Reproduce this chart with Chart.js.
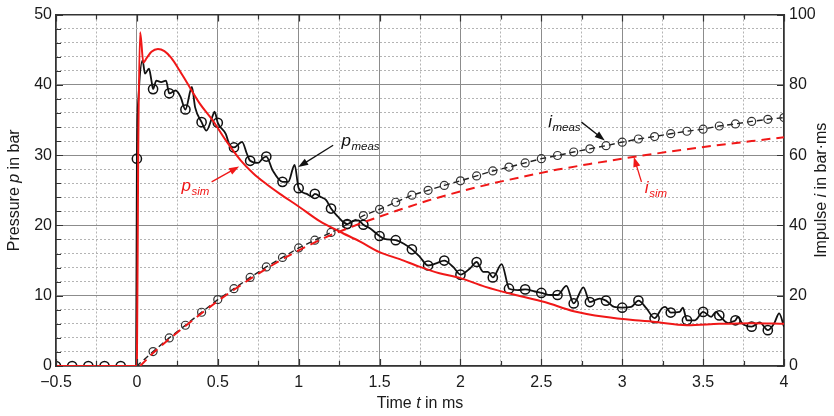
<!DOCTYPE html>
<html>
<head>
<meta charset="utf-8">
<title>Pressure and impulse</title>
<script src="https://cdn.jsdelivr.net/npm/chart.js@4.4.1/dist/chart.umd.min.js"></script>
<style>
  html, body { margin: 0; padding: 0; background: #fff; }
  #wrap { width: 834px; height: 416px; }
</style>
</head>
<body>
<div id="wrap"><canvas id="chart" width="834" height="416"></canvas></div>
<script>
/*global window, document, Chart*/
/*jslint indent: 2 */

// measured pressure (bar) over time (ms)
var p_meas_t = [-0.5, -0.4, -0.3, -0.2, -0.1, -0.005, 0, 0.01, 0.035, 0.05,
  0.075, 0.09, 0.1, 0.12, 0.15, 0.18, 0.2, 0.24, 0.27, 0.3, 0.34, 0.36, 0.4,
  0.43, 0.47, 0.48, 0.5, 0.55, 0.57, 0.6, 0.65, 0.68, 0.7, 0.75, 0.78, 0.8,
  0.84, 0.9, 0.935, 0.975, 1.0, 1.05, 1.08, 1.1, 1.14, 1.17, 1.2, 1.245,
  1.275, 1.3, 1.345, 1.37, 1.4, 1.44, 1.5, 1.53, 1.6, 1.65, 1.7, 1.75, 1.8,
  1.85, 1.9, 1.955, 2.0, 2.06, 2.1, 2.14, 2.17, 2.2, 2.255, 2.29, 2.3, 2.355,
  2.4, 2.46, 2.5, 2.56, 2.6, 2.655, 2.7, 2.76, 2.8, 2.86, 2.9, 2.95, 3.0,
  3.055, 3.1, 3.15, 3.2, 3.245, 3.265, 3.3, 3.355, 3.375, 3.4, 3.45, 3.5,
  3.55, 3.58, 3.6, 3.655, 3.68, 3.7, 3.715, 3.74, 3.8, 3.85, 3.9, 3.94, 3.97,
  4.0];
var p_meas_v = [0, 0, 0, 0, 0, 0, 29.5, 38.3, 43.5, 41.6,
  42.3, 40.6, 39.4, 40.6, 40.4, 40.6, 38.8, 39.2, 38.3, 36.5, 39.7, 36.8, 34.7,
  33.5, 35.7, 36.2, 34.6, 33.0, 31.6, 31.1, 31.9, 30.2, 29.2, 28.9, 29.6, 29.8,
  27.8, 26.2, 26.2, 28.6, 25.3, 24.5, 24.1, 24.5, 24.0, 23.6, 22.4, 21.2,
  20.5, 20.2, 20.7, 20.7, 20.1, 19.6, 18.5, 18.1, 17.9, 17.4, 16.6, 15.5, 14.3,
  14.6, 15.0, 14.1, 13.0, 13.9, 14.8, 13.4, 13.4, 12.6, 14.5, 11.7, 11.0, 10.8,
  10.9, 10.6, 10.4, 10.1, 10.1, 11.4, 8.9, 11.2, 9.1, 9.6, 9.3, 8.4, 8.3,
  8.4, 9.3, 8.2, 6.8, 8.2, 8.4, 7.6, 7.7, 8.3, 6.5, 6.5, 7.7,
  7.0, 7.7, 7.2, 6.1, 6.3, 6.5, 7.0, 6.1, 5.6, 6.2, 5.1, 6.1, 7.5,
  5.6];

// simulated pressure (bar)
var p_sim_t = [-0.5, 0, 0.008, 0.02, 0.04, 0.06, 0.09, 0.13, 0.17, 0.21, 0.26,
  0.31, 0.39, 0.47, 0.55, 0.64, 0.72, 0.8, 0.884, 1.0, 1.13, 1.255, 1.38, 1.5,
  1.625, 1.75, 1.87, 2.0, 2.15, 2.34, 2.52, 2.7, 2.89, 3.08, 3.19, 3.4, 3.6,
  3.8, 4.0];
var p_sim_v = [0, 0, 30, 47.5, 43.2, 43.8, 44.7, 45.1, 44.8, 43.9, 42.2,
  40.3, 37.3, 34.9, 32.1, 29.3, 27.4, 25.9, 24.5, 22.7, 20.6, 19.1, 17.7, 16.2,
  15.2, 14.1, 13.2, 12.5, 11.3, 10.1, 9.1, 7.8, 7.0, 6.5, 6.3, 5.8, 6.0,
  6.1, 6.0];

// measured impulse (bar ms)
var i_meas_t = [-0.5, 0, 0.1, 0.2, 0.3, 0.4, 0.5, 0.6, 0.7, 0.8, 0.9, 1.0,
  1.1, 1.2, 1.3, 1.4, 1.5, 1.6, 1.7, 1.8, 1.9, 2.0, 2.1, 2.2, 2.3, 2.4, 2.5,
  2.6, 2.7, 2.8, 2.9, 3.0, 3.1, 3.2, 3.3, 3.4, 3.5, 3.6, 3.7, 3.8, 3.9, 4.0];
var i_meas_v = [0, 0, 4.1, 8.0, 11.6, 15.3, 18.9, 22.0, 25.2, 28.2, 30.9, 33.6,
  35.8, 38.0, 40.3, 42.8, 44.6, 46.6, 48.6, 50.0, 51.4, 52.7, 54.1, 55.5, 56.6,
  57.8, 59.0, 59.9, 60.9, 61.8, 62.7, 63.7, 64.6, 65.3, 66.1, 66.8, 67.4, 68.3,
  68.9, 69.6, 70.2, 70.7];

// simulated impulse (bar ms)
var i_sim_t = [0.02, 0.1, 0.2, 0.3, 0.4, 0.5, 0.6, 0.7, 0.8, 0.9, 1.0, 1.1,
  1.2, 1.3, 1.4, 1.6, 1.8, 2.0, 2.2, 2.4, 2.6, 2.8, 3.0, 3.2, 3.4, 3.6, 3.8,
  4.0];
var i_sim_v = [0, 3.7, 7.7, 11.4, 15.0, 18.5, 21.7, 24.8, 27.7, 30.4, 32.9,
  35.2, 37.3, 39.1, 40.9, 44.1, 47.1, 49.7, 52.0, 54.0, 55.9, 57.5, 59.0, 60.4,
  61.7, 62.9, 64.0, 65.1];

(function (window, document, Chart) {
  "use strict";

  var FONT = "'Liberation Sans', Arial, sans-serif",
    RED = "#f01818",
    INK = "#111111",
    // labels with arrows, in data units: [text, sub, axis, t, v, from t, from v, to t, to v, colour]
    note_list = [
      ["p", "meas", "y", 1.265, 31.25, 1.213, 31.4, 0.997, 28.3, INK],
      ["p", "sim", "y", 0.276, 24.86, 0.462, 26.2, 0.632, 28.4, RED],
      ["i", "meas", "y2", 2.542, 68.04, 2.748, 69.4, 2.892, 64.2, INK],
      ["i", "sim", "y2", 3.14, 49.15, 3.119, 52.4, 3.072, 59.5, RED]
    ];

  function pairs(t_list, v_list) {
    return t_list.map(function (t, k) {
      return {x: t, y: v_list[k]};
    });
  }

  function isStep(value, step) {
    var q = value / step;
    return Math.abs(q - Math.round(q)) < 1e-6;
  }

  function drawRich(ctx, part_list, x, y, align) {
    var width = 0, i, cx;
    for (i = 0; i < part_list.length; i += 1) {
      ctx.font = (part_list[i][1] ? "italic " : "") + "16px " + FONT;
      width += ctx.measureText(part_list[i][0]).width;
    }
    cx = align === "center" ? x - width / 2 : x;
    ctx.textAlign = "left";
    for (i = 0; i < part_list.length; i += 1) {
      ctx.font = (part_list[i][1] ? "italic " : "") + "16px " + FONT;
      ctx.fillText(part_list[i][0], cx, y);
      cx += ctx.measureText(part_list[i][0]).width;
    }
  }

  function drawArrow(ctx, x0, y0, x1, y1, color) {
    var ang = Math.atan2(y1 - y0, x1 - x0), len = 10, half = 3.6;
    ctx.strokeStyle = color;
    ctx.fillStyle = color;
    ctx.lineWidth = 1.3;
    ctx.beginPath();
    ctx.moveTo(x0, y0);
    ctx.lineTo(x1 - Math.cos(ang) * len * 0.8, y1 - Math.sin(ang) * len * 0.8);
    ctx.stroke();
    ctx.beginPath();
    ctx.moveTo(x1, y1);
    ctx.lineTo(x1 - Math.cos(ang) * len - Math.sin(ang) * half,
      y1 - Math.sin(ang) * len + Math.cos(ang) * half);
    ctx.lineTo(x1 - Math.cos(ang) * len + Math.sin(ang) * half,
      y1 - Math.sin(ang) * len - Math.cos(ang) * half);
    ctx.closePath();
    ctx.fill();
  }

  var decor_plugin = {
    id: "decor",
    afterDatasetsDraw: function (chart) {
      var ctx = chart.ctx,
        area = chart.chartArea,
        sx = chart.scales.x,
        sy = chart.scales.y,
        sy2 = chart.scales.y2,
        v,
        px,
        len;
      ctx.save();
      ctx.strokeStyle = "#333";
      ctx.lineWidth = 1.2;
      ctx.beginPath();
      // inner tick marks on the time axis, bottom and top
      for (v = -0.5; v <= 4.0001; v += 0.25) {
        px = Math.round(sx.getPixelForValue(v)) + 0.5;
        len = isStep(v, 0.5) ? 7 : 5;
        ctx.moveTo(px, area.bottom);
        ctx.lineTo(px, area.bottom - len);
        ctx.moveTo(px, area.top);
        ctx.lineTo(px, area.top + len);
      }
      // inner tick marks on the pressure axis
      for (v = 0; v <= 50.001; v += 2) {
        px = Math.round(sy.getPixelForValue(v)) + 0.5;
        len = isStep(v, 10) ? 7 : 5;
        ctx.moveTo(area.left, px);
        ctx.lineTo(area.left + len, px);
      }
      // inner tick marks on the impulse axis
      for (v = 0; v <= 100.001; v += 20) {
        px = Math.round(sy2.getPixelForValue(v)) + 0.5;
        ctx.moveTo(area.right, px);
        ctx.lineTo(area.right - 7, px);
      }
      ctx.stroke();

      // curve labels with arrows
      note_list.forEach(function (note) {
        var sv = chart.scales[note[2]],
          x = sx.getPixelForValue(note[3]),
          y = sv.getPixelForValue(note[4]),
          w;
        drawArrow(ctx, sx.getPixelForValue(note[5]), sv.getPixelForValue(note[6]),
          sx.getPixelForValue(note[7]), sv.getPixelForValue(note[8]), note[9]);
        ctx.fillStyle = note[9];
        ctx.textAlign = "left";
        ctx.textBaseline = "alphabetic";
        ctx.font = "italic 17px " + FONT;
        ctx.fillText(note[0], x, y);
        w = ctx.measureText(note[0]).width;
        ctx.font = "italic 11.5px " + FONT;
        ctx.fillText(note[1], x + w + 0.5, y + 4);
      });
      ctx.restore();
    },
    afterDraw: function (chart) {
      var ctx = chart.ctx,
        area = chart.chartArea,
        mid = (area.top + area.bottom) / 2;
      ctx.save();
      ctx.fillStyle = "#1a1a1a";
      ctx.textBaseline = "middle";
      drawRich(ctx, [["Time ", false], ["t", true], [" in ms", false]],
        (area.left + area.right) / 2, 404, "center");
      ctx.translate(15, mid);
      ctx.rotate(-Math.PI / 2);
      drawRich(ctx, [["Pressure ", false], ["p", true], [" in bar", false]],
        0, 0, "center");
      ctx.restore();
      ctx.save();
      ctx.fillStyle = "#1a1a1a";
      ctx.textBaseline = "middle";
      ctx.translate(822, mid);
      ctx.rotate(-Math.PI / 2);
      drawRich(ctx, [["Impulse ", false], ["i", true], [" in bar\u00b7ms", false]],
        0, 0, "center");
      ctx.restore();
    }
  };

  function markerRadius(size, limit) {
    return function (context) {
      var raw = context.raw;
      if (!raw || raw.x < 0.05 && limit === "i") {
        return 0;
      }
      if (raw.x > limit && limit !== "i") {
        return 0;
      }
      return isStep(raw.x, 0.1) ? size : 0;
    };
  }

  var tick_font = {family: FONT, size: 16};

  new Chart(document.getElementById("chart"), {
    type: "line",
    data: {
      datasets: [
        {
          label: "p_sim",
          data: pairs(p_sim_t, p_sim_v),
          yAxisID: "y",
          borderColor: RED,
          borderWidth: 2,
          pointRadius: 0,
          cubicInterpolationMode: "monotone"
        },
        {
          label: "i_sim",
          data: pairs(i_sim_t, i_sim_v),
          yAxisID: "y2",
          borderColor: RED,
          borderWidth: 2,
          borderDash: [9, 6],
          pointRadius: 0
        },
        {
          label: "p_meas",
          data: pairs(p_meas_t, p_meas_v),
          yAxisID: "y",
          borderColor: INK,
          borderWidth: 1.8,
          cubicInterpolationMode: "monotone",
          pointRadius: markerRadius(4.6, 3.95),
          pointBorderWidth: 1.5,
          pointBorderColor: INK,
          pointBackgroundColor: "rgba(0,0,0,0)"
        },
        {
          label: "i_meas",
          data: pairs(i_meas_t, i_meas_v),
          yAxisID: "y2",
          borderColor: "#222",
          borderWidth: 1.4,
          borderDash: [6, 4],
          pointRadius: markerRadius(4, "i"),
          pointBorderWidth: 1.2,
          pointBorderColor: "#333",
          pointBackgroundColor: "rgba(0,0,0,0)"
        }
      ]
    },
    options: {
      responsive: false,
      animation: false,
      devicePixelRatio: 1,
      layout: {padding: {top: 14, left: 0, right: 0, bottom: 0}},
      plugins: {
        legend: {display: false},
        tooltip: {enabled: false}
      },
      scales: {
        x: {
          type: "linear",
          position: "bottom",
          min: -0.5,
          max: 4,
          afterFit: function (scale) { scale.height = 50; },
          ticks: {
            stepSize: 0.5,
            padding: 7,
            color: "#1a1a1a",
            font: tick_font,
            maxRotation: 0,
            callback: function (value) {
              return value < 0 ? "\u2212" + Math.abs(value) : String(value);
            }
          },
          grid: {color: "#8c8c8c", lineWidth: 1, drawTicks: false},
          border: {color: "#333", width: 1.5}
        },
        x_minor: {
          type: "linear",
          position: "top",
          min: -0.5,
          max: 4,
          afterFit: function (scale) { scale.height = 0; },
          ticks: {stepSize: 0.25, display: false},
          grid: {
            drawTicks: false,
            lineWidth: 1,
            color: function (context) {
              return isStep(context.tick.value, 0.5) ? "rgba(0,0,0,0)" : "#b4b4b4";
            }
          },
          border: {color: "#333", width: 1.5, dash: [2, 2]}
        },
        y: {
          type: "linear",
          position: "left",
          min: 0,
          max: 50,
          afterFit: function (scale) { scale.width = 56; },
          ticks: {stepSize: 10, padding: 4, color: "#1a1a1a", font: tick_font},
          grid: {color: "#8c8c8c", lineWidth: 1, drawTicks: false},
          border: {color: "#333", width: 1.5}
        },
        y_minor: {
          type: "linear",
          position: "left",
          min: 0,
          max: 50,
          afterFit: function (scale) { scale.width = 0; },
          ticks: {stepSize: 2, display: false},
          grid: {
            drawTicks: false,
            lineWidth: 1,
            color: function (context) {
              return isStep(context.tick.value, 10) ? "rgba(0,0,0,0)" : "#b4b4b4";
            }
          },
          border: {display: false, dash: [2, 2]}
        },
        y2: {
          type: "linear",
          position: "right",
          min: 0,
          max: 100,
          afterFit: function (scale) { scale.width = 50; },
          ticks: {stepSize: 20, padding: 5, color: "#1a1a1a", font: tick_font},
          grid: {display: false, drawTicks: false},
          border: {color: "#333", width: 1.5}
        }
      }
    },
    plugins: [decor_plugin]
  });

}(window, document, Chart));
</script>
</body>
</html>
